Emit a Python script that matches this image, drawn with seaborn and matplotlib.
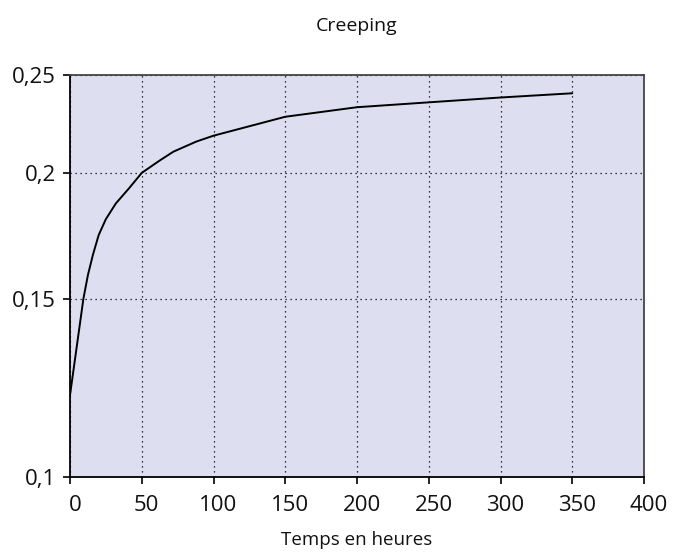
import matplotlib
matplotlib.use('Agg')
import matplotlib.pyplot as plt
from matplotlib.ticker import FixedLocator, FuncFormatter, NullLocator
from matplotlib.transforms import ScaledTranslation
import seaborn as sns
import pandas as pd

# données
heures = [0, 9.3, 12.5, 16, 20, 25, 32, 41, 50, 62, 72, 88, 100, 150, 200, 250, 300, 350]
fluage = [0.1205, 0.150, 0.1585, 0.166, 0.1736, 0.180, 0.1866, 0.193, 0.200, 0.2055,
          0.2099, 0.2148, 0.2177, 0.2273, 0.2323, 0.2349, 0.2375, 0.2398]
x_ticks = [0, 50, 100, 150, 200, 250, 300, 350, 400]
y_ticks = [0.1, 0.15, 0.2, 0.25]
y_labels = ['0,1', '0,15', '0,2', '0,25']

sns.set_theme(style="ticks")
plt.rcParams['font.family'] = ['Open Sans', 'DejaVu Sans']

df = pd.DataFrame({'heures': heures, 'fluage': fluage})

fig = plt.figure(figsize=(6.73, 5.52), dpi=100)
ax = fig.add_axes([70/673, 1-477/552, (644-70)/673, (477-75)/552])
ax.set_facecolor('#dddff0')

sns.lineplot(data=df, x='heures', y='fluage', ax=ax, color='black', linewidth=1.4)

ax.set_yscale('log')
ax.set_xlim(0, 400)
ax.set_ylim(0.1, 0.25)
ax.xaxis.set_major_locator(FixedLocator(x_ticks))
ax.yaxis.set_major_locator(FixedLocator(y_ticks))
ax.yaxis.set_minor_locator(NullLocator())
ax.yaxis.set_major_formatter(FuncFormatter(lambda v, p: y_labels[y_ticks.index(round(v, 2))] if round(v, 2) in y_ticks else ''))

# grille pointillée
ax.grid(True, color='black', linestyle=(0, (1, 3)), linewidth=0.9)

for s in ax.spines.values():
    s.set_color('black')
    s.set_linewidth(1.3)
ax.spines['top'].set_color('#444444')
ax.spines['right'].set_color('#444444')

ax.tick_params(axis='both', direction='out', length=5, width=1.2, color='black',
               labelsize=16, labelcolor='#111111')
ax.tick_params(axis='y', pad=5)
ax.tick_params(axis='x', pad=8)

# les étiquettes de l'axe x sont un peu décalées à droite dans l'original
decal = ScaledTranslation(5/100, 0, fig.dpi_scale_trans)
for lab in ax.get_xticklabels():
    lab.set_transform(lab.get_transform() + decal)

ax.set_xlabel('Temps en heures', fontsize=13.5, labelpad=11, color='#111111')
ax.set_ylabel('')
fig.text(357/673, 1-26/552, 'Creeping', ha='center', va='center', fontsize=14, color='#111111')

plt.savefig('out.png', dpi=100)
